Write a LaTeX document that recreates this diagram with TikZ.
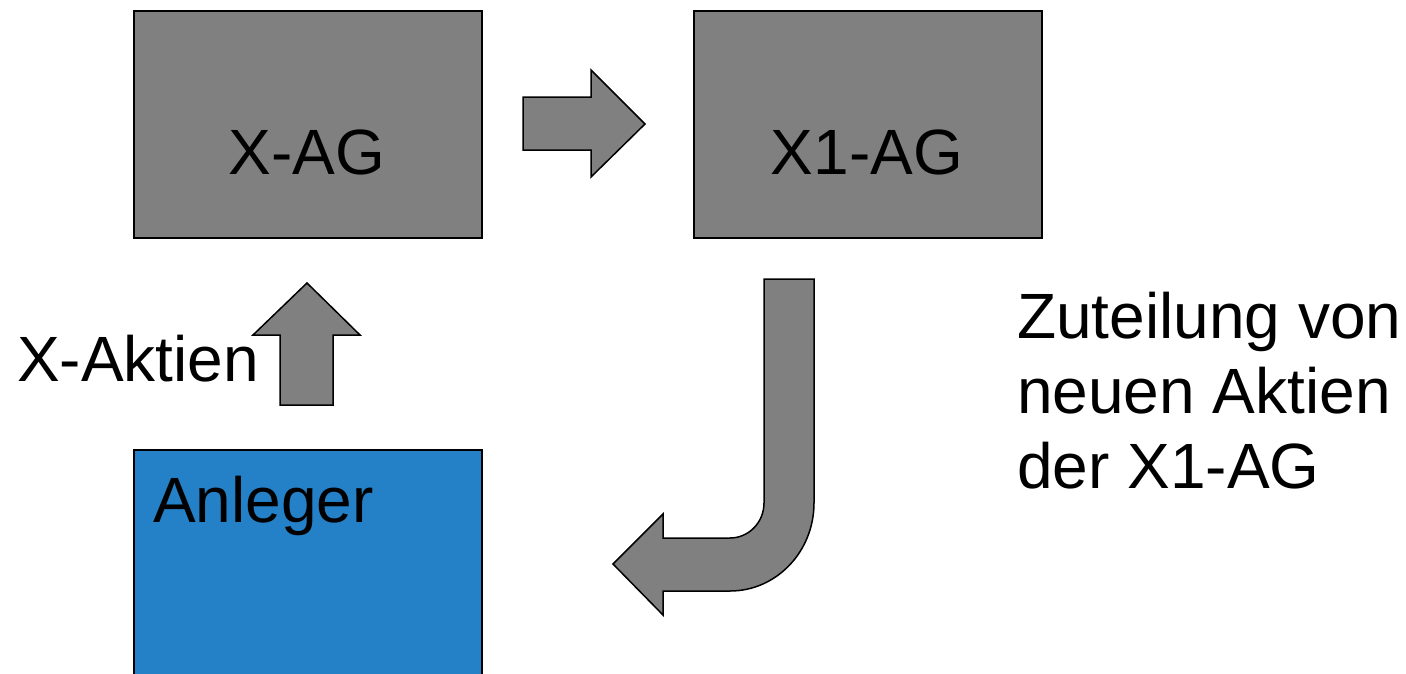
\documentclass[tikz,border=0pt]{standalone}
\usepackage{fontspec}
\setmainfont{Liberation Sans}
\definecolor{boxgray}{RGB}{128,128,128}
\definecolor{investor}{RGB}{36,129,200}
\tikzset{
  block/.style={draw=black, line width=1.5pt, inner sep=0pt},
  blockarrow/.style={draw=black, line width=1.5pt, fill=boxgray, line join=miter},
  txt/.style={inner sep=0pt, font=\fontsize{64}{74}\selectfont, text=black},
}
\begin{document}
\begin{tikzpicture}[x=1pt, y=-1pt]
  \clip (0,0) rectangle (1406,673);
  \fill[white] (0,0) rectangle (1406,673);

  % companies
  \node[block, fill=boxgray, minimum width=348pt, minimum height=227pt, anchor=north west] (xag) at (133,10) {};
  \node[block, fill=boxgray, minimum width=348pt, minimum height=227pt, anchor=north west] (x1ag) at (693,10) {};
  \node[txt, anchor=base] (xagtext) at (307,174) {X-AG};
  \node[txt, anchor=base] (x1agtext) at (867,174) {X1-AG};

  % investor
  \node[block, fill=investor, minimum width=348pt, minimum height=260pt, anchor=north west] (anleger) at (133,449) {};
  \node[txt, anchor=base west] (anlegertext) at (153,522) {Anleger};

  % arrow from X-AG to X1-AG
  \draw[blockarrow] (523,97) -- (591,97) -- (591,70) -- (645,124) -- (591,177)
        -- (591,150) -- (523,150) -- cycle;

  % arrow from the investor up to X-AG
  \draw[blockarrow] (280,405) -- (280,335) -- (253,335) -- (307,283) -- (360,335)
        -- (333,335) -- (333,405) -- cycle;
  \node[txt, anchor=base west] (aktien) at (17,381) {X-Aktien};

  % bent arrow from X1-AG back to the investor
  \draw[blockarrow] (613,564) -- (663,514) -- (663,538) -- (730,538)
        arc[start angle=90, end angle=0, x radius=34, y radius=35]
        -- (764,279) -- (814,279) -- (814,503)
        arc[start angle=0, end angle=90, x radius=84, y radius=88]
        -- (663,591) -- (663,615) -- cycle;

  % allotment note
  \node[txt, anchor=base west] (zuteilung1) at (1017,338) {Zuteilung von};
  \node[txt, anchor=base west] (zuteilung2) at (1017,413) {neuen Aktien};
  \node[txt, anchor=base west] (zuteilung3) at (1017,488) {der X1-AG};
\end{tikzpicture}
\end{document}
